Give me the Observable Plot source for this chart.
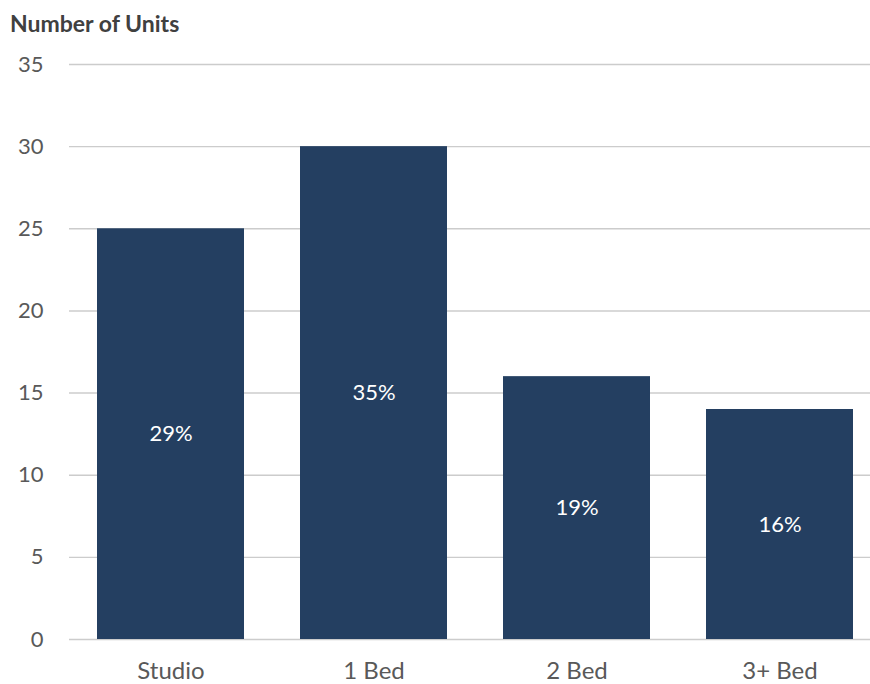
<!DOCTYPE html>
<html>
<head>
<meta charset="utf-8">
<script src="https://cdn.jsdelivr.net/npm/d3@7"></script>
<script src="https://cdn.jsdelivr.net/npm/@observablehq/plot@0.6"></script>
<style>
  body { margin: 0; background: #fff; }
  #title {
    box-sizing: border-box; height: 44px; padding: 9px 0 0 10px; line-height: 26px;
    font: bold 23px Lato, "Open Sans", sans-serif; color: #404040;
  }
  #chart svg { display: block; }
</style>
</head>
<body>
<div id="title">Number of Units</div>
<div id="chart"></div>
<script>
// Unit mix by bedroom type
const unitTypes = ["Studio", "1 Bed", "2 Bed", "3+ Bed"];
const unitCounts = [25, 30, 16, 14];
const yTicks = [0, 5, 10, 15, 20, 25, 30, 35];

const total = d3.sum(unitCounts);
const rows = unitTypes.map((type, i) => ({
  type,
  count: unitCounts[i],
  share: Math.round(unitCounts[i] / total * 100) + "%"
}));

const chart = Plot.plot({
  width: 870,
  height: 640,
  marginTop: 20,
  marginBottom: 45,
  marginLeft: 69,
  marginRight: 0,
  style: { fontFamily: "Lato, 'Open Sans', sans-serif", fontSize: "22px", color: "#595959", background: "#fff" },
  x: { domain: unitTypes, range: [68.5, 880.5], paddingInner: 0.276, paddingOuter: 0.138, label: null },
  y: { domain: [0, 35], label: null },
  marks: [
    Plot.ruleY(yTicks, { stroke: "#cccccc", strokeWidth: 1.4 }),
    Plot.barY(rows, { x: "type", y: "count", fill: "#243f61" }),
    Plot.text(rows, {
      x: "type", y: d => d.count / 2, text: "share",
      fill: "white", fontSize: 22
    }),
    Plot.axisY({ ticks: yTicks, tickSize: 0, tickPadding: 26, fill: "#595959", fontSize: 22 }),
    Plot.axisX({ tickSize: 0, tickPadding: 22, fill: "#595959", fontSize: 24 })
  ]
});
document.getElementById("chart").append(chart);
</script>
</body>
</html>
